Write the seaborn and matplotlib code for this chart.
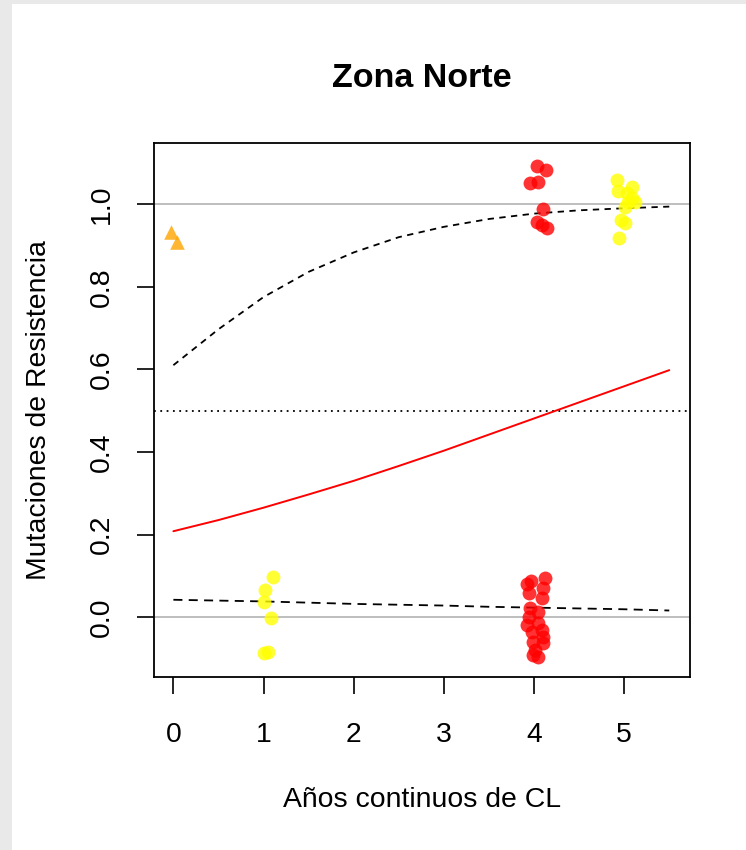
import matplotlib
matplotlib.use("Agg")
import matplotlib.pyplot as plt
import matplotlib.patches as mpatches
import seaborn as sns
import pandas as pd

# ---- data ----
orange_x = [-0.03, 0.04]
orange_y = [0.932, 0.908]

yellow1_x = [1.10, 1.02, 1.01, 1.08, 1.00, 1.05]
yellow1_y = [0.097, 0.065, 0.036, -0.002, -0.087, -0.085]

red_top_x = [4.03, 4.13, 3.95, 4.04, 4.10, 4.03, 4.09, 4.14]
red_top_y = [1.092, 1.082, 1.051, 1.053, 0.988, 0.956, 0.949, 0.942]

red_bot_x = [3.97, 4.12, 3.92, 4.10, 3.94, 4.09, 3.96, 4.04, 3.94, 3.92,
             4.04, 3.98, 4.09, 4.10, 3.99, 4.10, 4.01, 3.99, 4.04]
red_bot_y = [0.087, 0.094, 0.080, 0.070, 0.058, 0.046, 0.022, 0.012, 0.000, -0.019,
             -0.015, -0.036, -0.031, -0.048, -0.061, -0.063, -0.080, -0.092, -0.097]

yellow5_x = [4.92, 4.93, 5.09, 5.03, 5.09, 5.12, 5.04, 5.01, 4.96, 5.01, 4.94]
yellow5_y = [1.058, 1.031, 1.041, 1.027, 1.015, 1.005, 1.005, 0.993, 0.961, 0.954, 0.918]

curve_x = [0.0, 0.5, 1.0, 1.5, 2.0, 2.5, 3.0, 3.5, 4.0, 4.5, 5.0, 5.5]
fit_y = [0.208, 0.235, 0.265, 0.297, 0.330, 0.366, 0.403, 0.442, 0.481, 0.520, 0.559, 0.598]
upper_y = [0.610, 0.697, 0.775, 0.836, 0.883, 0.920, 0.945, 0.964, 0.977, 0.985, 0.990, 0.994]
lower_y = [0.042, 0.040, 0.038, 0.035, 0.032, 0.030, 0.028, 0.025, 0.023, 0.021, 0.019, 0.016]

x_ticks = [0, 1, 2, 3, 4, 5]
y_ticks = [0.0, 0.2, 0.4, 0.6, 0.8, 1.0]
y_ticklabels = ["0.0", "0.2", "0.4", "0.6", "0.8", "1.0"]

title = "Zona Norte"
xlabel = "Años continuos de CL"
ylabel = "Mutaciones de Resistencia"

# ---- styling ----
sns.set_style("white")
plt.rcParams['font.family'] = ['Liberation Sans', 'DejaVu Sans']
plt.rcParams['text.color'] = 'black'
plt.rcParams['axes.labelcolor'] = 'black'
plt.rcParams['xtick.color'] = 'black'
plt.rcParams['ytick.color'] = 'black'
FS = 20.4

fig = plt.figure(figsize=(7.46, 8.50), dpi=100, facecolor="#E9E9E9")
W, H = 746, 850
bg = mpatches.Rectangle((12 / W, 0), 1 - 12 / W, (H - 4) / H,
                        transform=fig.transFigure, facecolor="white",
                        edgecolor="none", zorder=-5)
fig.patches.append(bg)
ax = fig.add_axes([154 / W, 1 - 677 / H, (690 - 154) / W, (677 - 143) / H])
ax.set_facecolor("white")

# reference lines
ax.axhline(0, color="#BEBEBE", lw=1.4, zorder=1)
ax.axhline(1, color="#BEBEBE", lw=1.4, zorder=1)
ax.axhline(0.5, color="black", lw=1.3, ls=(0, (1, 2.5)), zorder=1)

# points
def pts(x, y, color, marker, s):
    df = pd.DataFrame({"x": x, "y": y})
    sns.scatterplot(data=df, x="x", y="y", ax=ax, color=color, marker=marker, s=s,
                    alpha=0.8, linewidth=0, zorder=3, legend=False)

pts(orange_x, orange_y, "#FFA500", "^", 110)
pts(yellow1_x, yellow1_y, "#FFFF00", "o", 100)
pts(red_top_x, red_top_y, "#FF0000", "o", 100)
pts(red_bot_x, red_bot_y, "#FF0000", "o", 100)
pts(yellow5_x, yellow5_y, "#FFFF00", "o", 100)

# curves
curves = pd.DataFrame({"x": curve_x, "fit": fit_y, "up": upper_y, "lo": lower_y})
sns.lineplot(data=curves, x="x", y="fit", ax=ax, color="red", lw=1.4, zorder=2)
sns.lineplot(data=curves, x="x", y="up", ax=ax, color="black", lw=1.3, zorder=2)
ax.lines[-1].set_dashes((3.5, 3))
sns.lineplot(data=curves, x="x", y="lo", ax=ax, color="black", lw=1.3, zorder=2)
ax.lines[-1].set_dashes((5, 3.5))

ax.set_xlim(-0.215, 5.73)
ax.set_ylim(-0.145, 1.148)
ax.set_xticks(x_ticks)
ax.set_xticklabels([str(t) for t in x_ticks], fontsize=FS)
ax.set_yticks(y_ticks)
ax.set_yticklabels(y_ticklabels, fontsize=FS, rotation=90, va="center")
ax.tick_params(axis="both", which="both", direction="out", length=12.5, width=1.2,
               color="black", labelcolor="black", bottom=True, left=True)
ax.tick_params(axis="x", pad=20)
ax.tick_params(axis="y", pad=16)

for sp in ax.spines.values():
    sp.set_color("black")
    sp.set_linewidth(1.3)
    sp.set_visible(True)

ax.set_title(title, fontsize=FS * 1.2, fontweight="bold", pad=40, color="black")
ax.set_xlabel(xlabel, fontsize=FS, color="black")
ax.set_ylabel(ylabel, fontsize=FS, color="black")
ax.xaxis.set_label_coords(0.5, (677 - 800) / 534)
ax.xaxis.label.set_va("center")
ax.yaxis.set_label_coords((39 - 154) / 536, 0.5)
ax.yaxis.label.set_va("center")

fig.savefig("out.png", dpi=100, facecolor=fig.get_facecolor())
